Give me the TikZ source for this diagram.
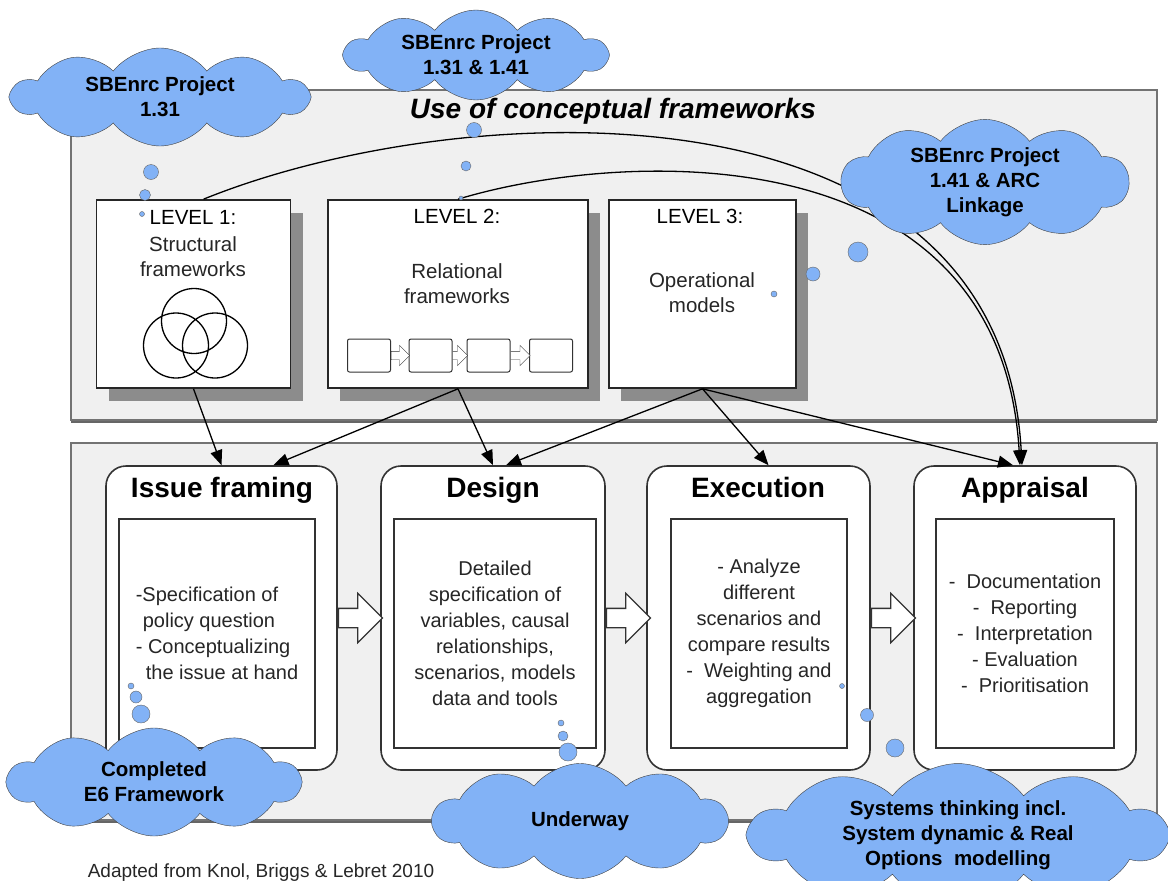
\documentclass[tikz,border=0pt]{standalone}
\usepackage{fontspec}
\setmainfont{Liberation Sans}
\usetikzlibrary{shapes.symbols, shapes.arrows, shadows, arrows.meta, calc}

\definecolor{cloudblue}{RGB}{130,178,246}
\definecolor{panelgray}{RGB}{240,240,240}

\tikzset{
  panel/.style={draw=black!55, line width=1.3pt, fill=panelgray,
    drop shadow={shadow xshift=0pt, shadow yshift=-3pt, fill=black!60, opacity=1}},
  levelbox/.style={rectangle, draw=black!85, line width=1.6pt, fill=white,
    drop shadow={shadow xshift=12pt, shadow yshift=-13pt, fill=black!45, opacity=1}},
  stagebox/.style={rectangle, rounded corners=20pt, draw=black!80, line width=1.6pt, fill=white},
  innerbox/.style={rectangle, draw=black!80, line width=1.3pt, fill=white, align=center,
    font=\fontsize{20}{26}\selectfont, text=black!85},
  stagetitle/.style={anchor=base, font=\fontsize{28}{30}\selectfont\bfseries},
  lvltext/.style={align=center, font=\fontsize{20.5}{25}\selectfont, text=black!85},
  flowbox/.style={rectangle, rounded corners=2pt, draw=black!80, line width=1pt, fill=white,
    minimum width=43pt, minimum height=33pt},
  minarrow/.style={single arrow, draw=black!80, fill=white, anchor=tail, inner xsep=0pt, inner ysep=4pt,
    single arrow head extend=6pt},
  bigarrow/.style={single arrow, draw=black!80, line width=1.3pt, fill=white, anchor=tail, inner xsep=0pt,
    inner ysep=9pt, single arrow head extend=15pt, minimum height=44pt},
  note/.style={cloud, cloud puffs=10, cloud puff arc=105, cloud ignores aspect, draw=black!75, fill=cloudblue,
    align=center, font=\fontsize{20.5}{25}\selectfont\bfseries, inner sep=0pt},
  bubble/.style={circle, draw=black!60, fill=cloudblue, inner sep=0pt},
  link/.style={line width=1.3pt, -{Triangle[length=15pt, width=12pt]}}
}

\begin{document}
\begin{tikzpicture}[x=1pt, y=-1pt]
  \useasboundingbox (0,0) rectangle (1168,881);
  % panels
  \draw[panel] (71,90) rectangle (1157,420);
  \draw[panel] (71,443) rectangle (1157,820);
  \node[font=\fontsize{28}{30}\selectfont\bfseries\itshape] (title) at (613,111) {Use of conceptual frameworks};

  % levels
  \node[levelbox, minimum width=194pt, minimum height=188pt] (lvl1) at (193.5,294) {};
  \node[levelbox, minimum width=260pt, minimum height=188pt] (lvl2) at (458,294) {};
  \node[levelbox, minimum width=187pt, minimum height=188pt] (lvl3) at (702.5,294) {};
  \node[lvltext, text=black] at (193,217) {LEVEL 1:};
  \node[lvltext] at (193,257) {Structural\\frameworks};
  \draw[line width=1.3pt] (194,321) circle (32.5pt) (176,345.5) circle (32.5pt) (215,345.5) circle (32.5pt);
  \node[lvltext, text=black] at (457,216) {LEVEL 2:};
  \node[lvltext] at (457,284) {Relational\\frameworks};
  \foreach \i/\x in {1/369, 2/430.5, 3/488.5, 4/551}
    \node[flowbox] (fb\i) at (\x,355.5) {};
  \foreach \a/\len in {1/18.5, 2/15, 3/19.5}
    \node[minarrow, minimum height=\len pt] at (fb\a.east) {};
  \node[lvltext, text=black] at (700,216) {LEVEL 3:};
  \node[lvltext] at (702,293) {Operational\\models};

  % stages
  \node[stagebox, minimum width=231pt, minimum height=304pt] (issue) at (221.5,618) {};
  \node[stagebox, minimum width=224pt, minimum height=304pt] (design) at (493,618) {};
  \node[stagebox, minimum width=223pt, minimum height=304pt] (exec) at (758.5,618) {};
  \node[stagebox, minimum width=222pt, minimum height=304pt] (apprais) at (1025,618) {};
  \node[stagetitle] at (222,497) {Issue framing};
  \node[stagetitle] at (493,497) {Design};
  \node[stagetitle] at (758,497) {Execution};
  \node[stagetitle] at (1025,497) {Appraisal};
  \node[innerbox, minimum width=196pt, minimum height=229pt, align=left] (issuetxt) at (217,633.5)
    {-Specification of\\\hspace*{7pt}policy question\\- Conceptualizing\\\hspace*{10pt}the issue at hand};
  \node[innerbox, minimum width=202pt, minimum height=229pt] (designtxt) at (495,633.5)
    {Detailed\\specification of\\variables, causal\\relationships,\\scenarios, models\\data and tools};
  \node[innerbox, minimum width=176pt, minimum height=229pt] (exectxt) at (759,633.5)
    {- Analyze\\different\\scenarios and\\compare results\\-~~Weighting and\\aggregation};
  \node[innerbox, minimum width=178pt, minimum height=229pt] (appraistxt) at (1025,633.5)
    {-~~Documentation\\-~~Reporting\\-~~Interpretation\\- Evaluation\\-~~Prioritisation};
  \node[bigarrow] at (issue.east) {};
  \node[bigarrow] at (design.east) {};
  \node[bigarrow] at (exec.east) {};

  % links from levels to stages
  \draw[link] (lvl1.south) -- (issue.north);
  \draw[link] (lvl2.south) -- ([xshift=52pt]issue.north);
  \draw[link] (lvl2.south) -- (design.north);
  \draw[link] (lvl3.south) -- ([xshift=13pt]design.north);
  \draw[link] (lvl3.south) -- ([xshift=10pt]exec.north);
  \draw[link] (lvl3.south) -- ([xshift=-12pt]apprais.north);
  \draw[link] ([xshift=10pt]lvl1.north) .. controls (460,95) and (1000,70) .. ([xshift=-3pt]apprais.north);
  \draw[link] (lvl2.north) .. controls (620,150) and (1000,130) .. ([xshift=-5pt]apprais.north);

  % clouds
  \node[note, minimum width=296pt, minimum height=98pt] (proj131) at (160,97) {SBEnrc Project\\1.31};
  \node[note, minimum width=262pt, minimum height=90pt] (proj13141) at (476,55) {SBEnrc Project\\1.31 \& 1.41};
  \node[note, minimum width=287pt, minimum height=115pt] (proj141) at (985,182) {SBEnrc Project\\1.41 \& ARC\\Linkage};
  \node[note, minimum width=292pt, minimum height=108pt] (done) at (154,782) {Completed\\E6 Framework};
  \node[note, minimum width=294pt, minimum height=115pt] (underway) at (580,821) {Underway};
  \node[note, minimum width=416pt, minimum height=102pt] (systems) at (958,835)
    {Systems thinking incl.\\System dynamic \& Real\\Options~ modelling};
  \foreach \x/\y/\d [count=\i] in {151/172/15, 145/195/11, 142/214/5,
      474/130/15, 466/166/10, 461/198/4,
      858/252/20, 813/274/14, 774/294/6,
      131/686/6, 136/697/12, 141/714/18,
      561/723/6, 563/736/10, 568/752/18,
      842/686/5, 867/715/13, 895/748/18}
    \node[bubble, minimum size=\d pt] (bub\i) at (\x,\y) {};

  \node[font=\fontsize{19}{22}\selectfont, text=black!85] (source) at (261,873) {Adapted from Knol, Briggs \& Lebret 2010};
\end{tikzpicture}
\end{document}
